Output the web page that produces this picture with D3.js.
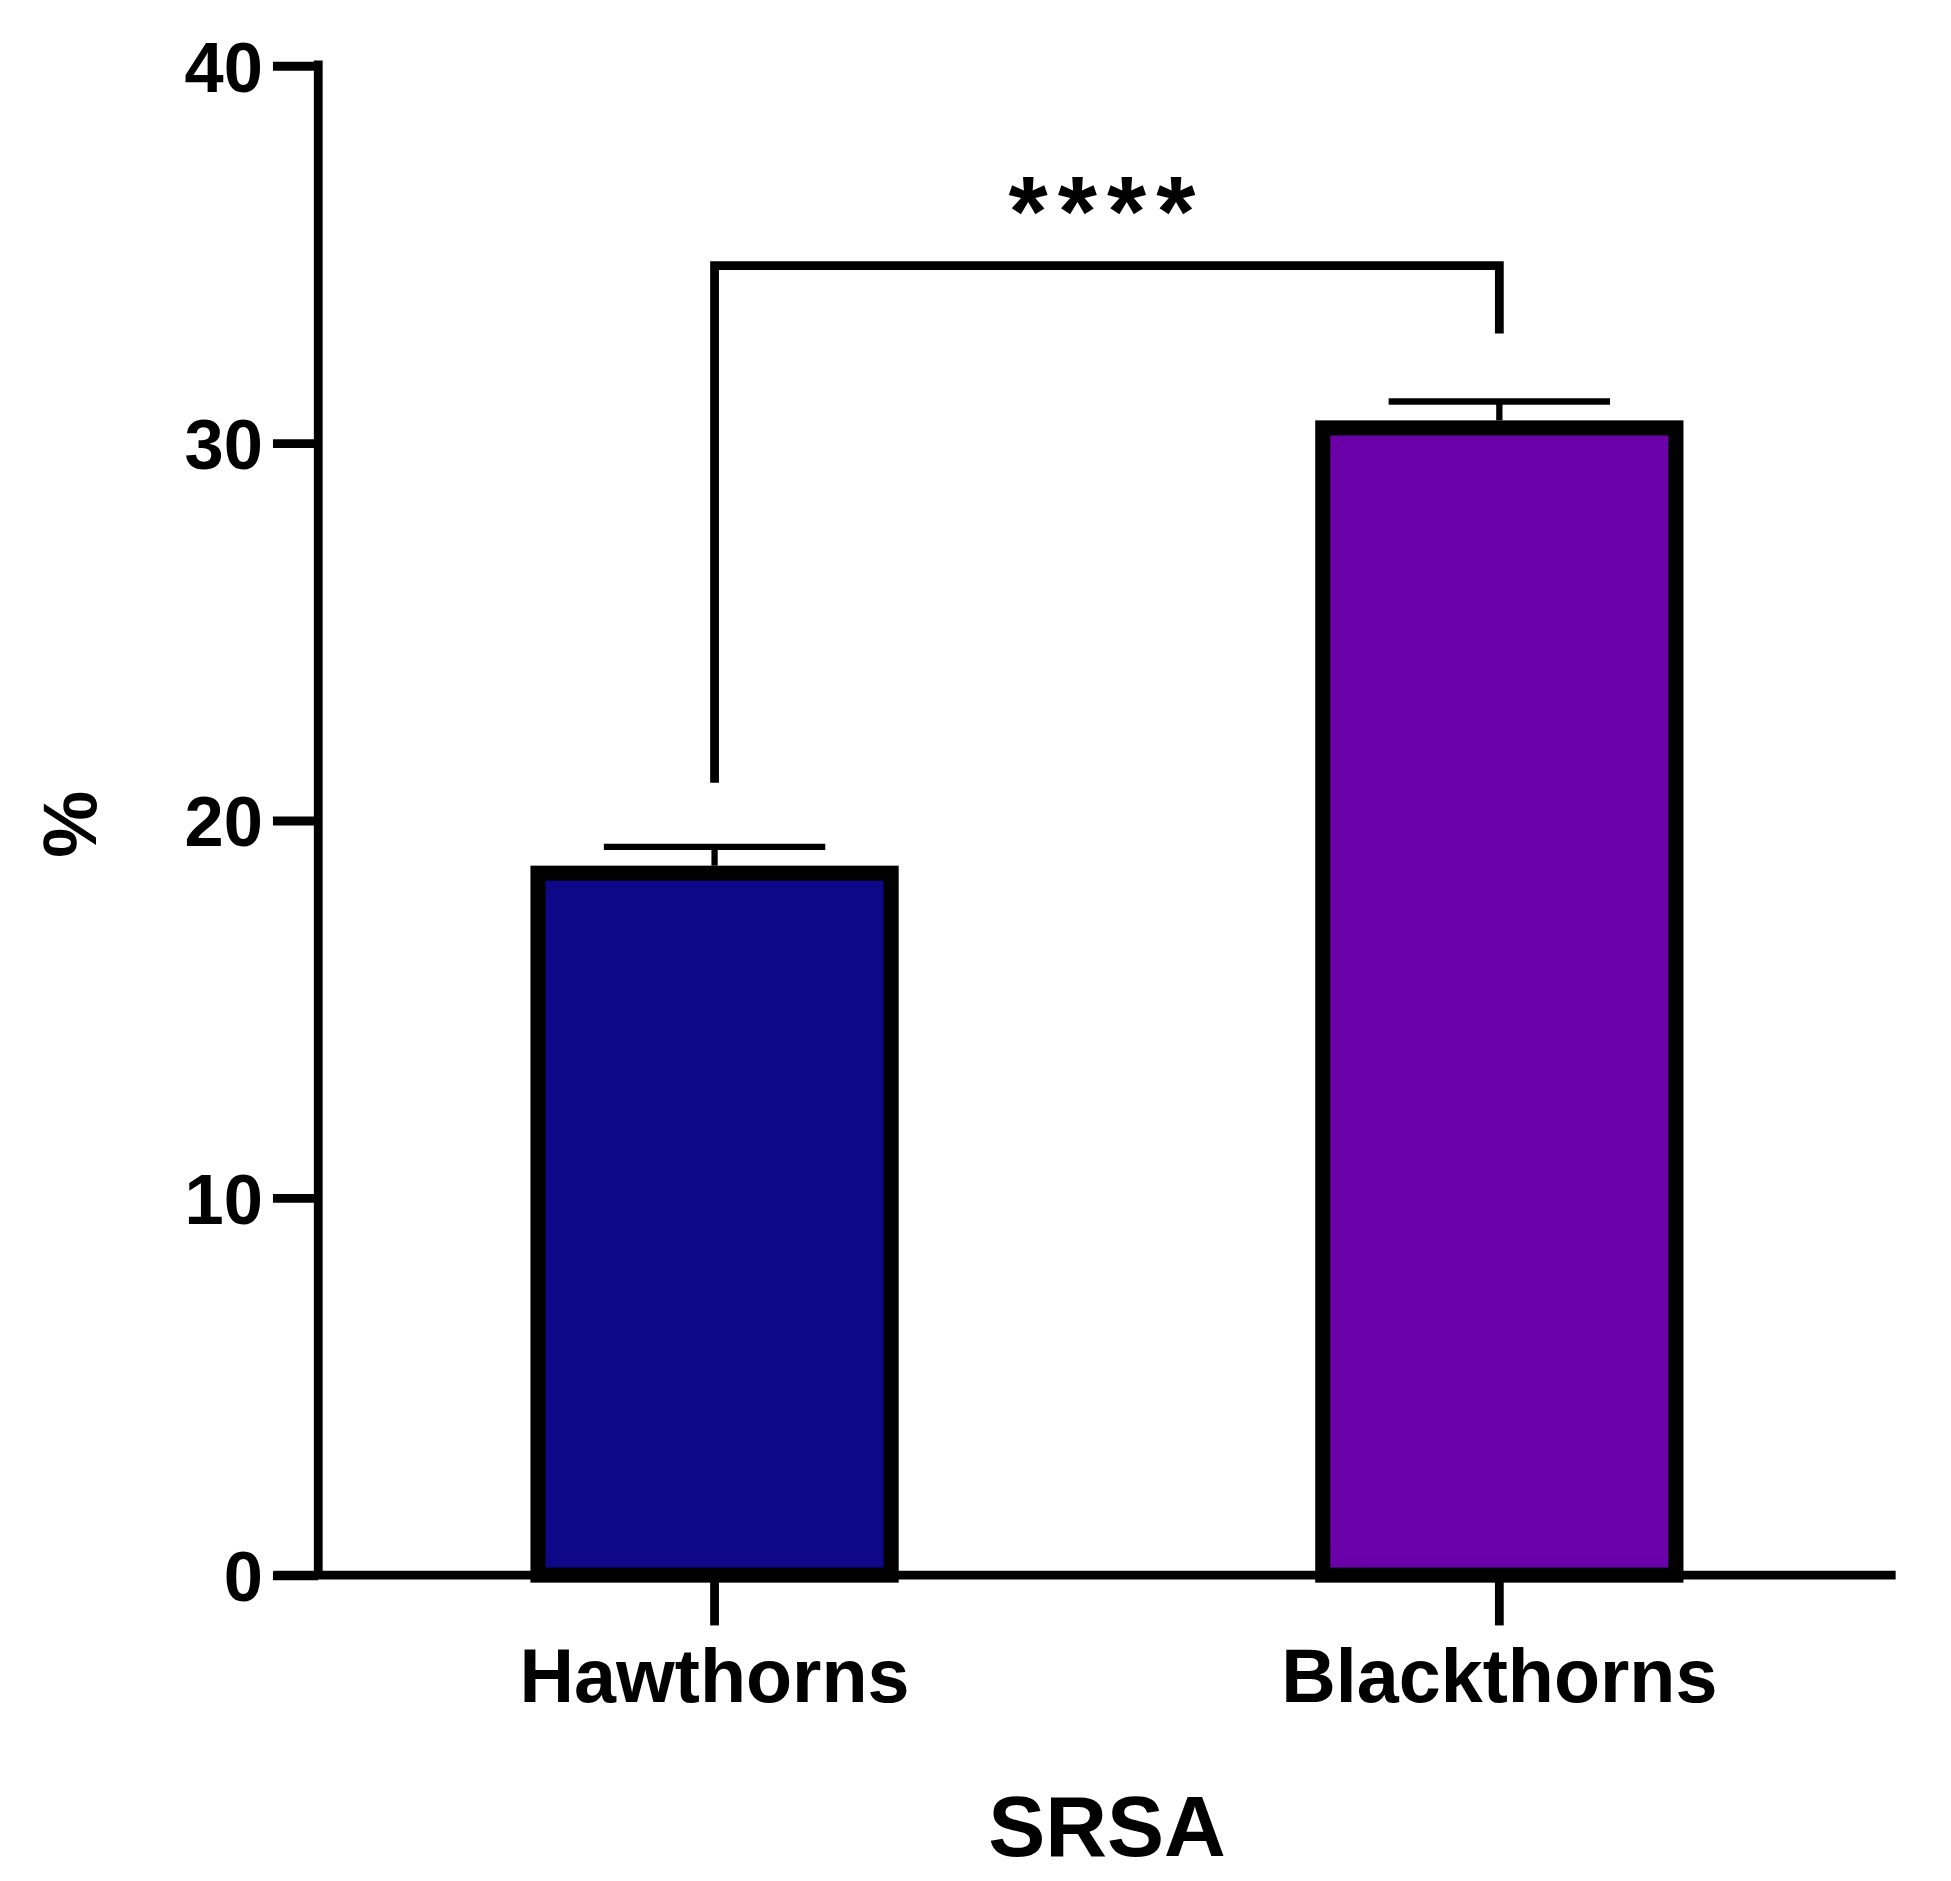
<!DOCTYPE html>
<html><head><meta charset="utf-8">
<script src="https://cdn.jsdelivr.net/npm/d3@7"></script>
<style>body{margin:0;background:#fff}text{font-family:"Liberation Sans",Arial,sans-serif;font-weight:bold;fill:#000}</style>
</head><body><div id="chart"></div>
<script>
// data
var groups = ["Hawthorns", "Blackthorns"];
var means = [18.6, 30.4];
var errs = [0.7, 0.7];
var colours = ["#0d0887", "#6a00a8"];
var yTicks = [0, 10, 20, 30, 40];

var svg = d3.select("#chart").append("svg")
  .attr("width", 1951).attr("height", 1881)
  .attr("viewBox", "0 0 1551 1495");

var y = d3.scaleLinear().domain([0, 40]).range([1252, 52]);
var x = d3.scaleBand().domain(groups).range([253, 1507]).paddingInner(0.55).paddingOuter(0.28);
var bw = x.bandwidth();

// bars
svg.selectAll("rect.bar").data(groups).enter().append("rect")
  .attr("x", d => x(d)).attr("width", bw)
  .attr("y", (d, i) => y(means[i])).attr("height", (d, i) => y(0) - y(means[i]))
  .attr("fill", (d, i) => colours[i]).attr("stroke", "#000").attr("stroke-width", 12);

// error bars (upper only)
groups.forEach(function(d, i) {
  var cx = x(d) + bw / 2;
  svg.append("line").attr("x1", cx).attr("x2", cx).attr("y1", y(means[i]) - 6).attr("y2", y(means[i] + errs[i]))
    .attr("stroke", "#000").attr("stroke-width", 5);
  svg.append("line").attr("x1", cx - 88).attr("x2", cx + 88).attr("y1", y(means[i] + errs[i])).attr("y2", y(means[i] + errs[i]))
    .attr("stroke", "#000").attr("stroke-width", 5);
});

// y axis
var yAxis = d3.axisLeft(y).tickValues(yTicks).tickSize(36).tickPadding(8);
var gy = svg.append("g").attr("transform", "translate(253,0)").call(yAxis);
gy.select(".domain").attr("stroke-width", 7).attr("d", "M0,48V1252");
gy.selectAll(".tick line").attr("stroke-width", 7);
gy.selectAll(".tick text").style("font-size", "56px").attr("dy", "0.36em");

// x axis
var gx = svg.append("g").attr("transform", "translate(0,1252)").call(d3.axisBottom(x).tickSize(40).tickPadding(18));
gx.select(".domain").attr("stroke-width", 7).attr("d", "M218,0H1507");
gx.selectAll(".tick line").attr("stroke-width", 7);
gx.selectAll(".tick text").style("font-size", "60px");

// significance bracket
var x1 = x(groups[0]) + bw / 2, x2 = x(groups[1]) + bw / 2;
svg.append("path")
  .attr("d", `M${x1},${y(21)}V${y(34.7)}H${x2}V${y(32.9)}`)
  .attr("fill", "none").attr("stroke", "#000").attr("stroke-width", 7);
svg.append("text").attr("x", (x1 + x2) / 2).attr("y", 195).attr("text-anchor", "middle")
  .style("font-size", "80px").style("letter-spacing", "8px").text("****");

// axis titles
svg.append("text").attr("x", 880).attr("y", 1475).attr("text-anchor", "middle").style("font-size", "68px").text("SRSA");
svg.append("text").attr("transform", "translate(76,655) rotate(-90)").attr("text-anchor", "middle").style("font-size", "60px").text("%");
</script></body></html>
